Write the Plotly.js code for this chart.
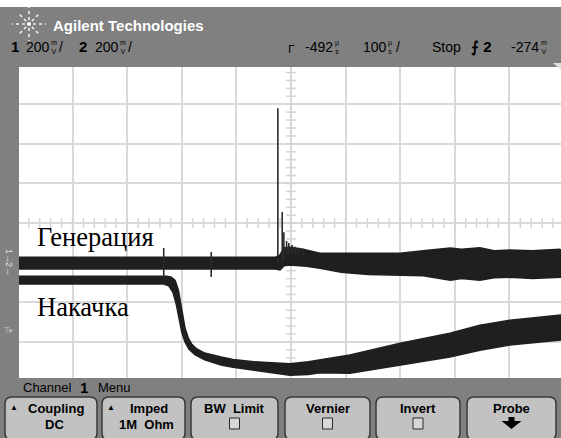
<!DOCTYPE html>
<html><head><meta charset="utf-8">
<script src="https://cdn.plot.ly/plotly-3.0.1.min.js"></script>
<style>html,body{margin:0;padding:0;background:#808080;overflow:hidden}#chart{width:561px;height:438px}</style>
</head><body><div id="chart"></div>
<script>
// ---------- DATA (time in µs, amplitude in screen divisions) ----------
const timeCenter = -492;      // µs, horizontal delay
const timePerDiv = 100;       // µs/div
const voltsPerDiv = 200;      // mV/div
const trigLevel = -274;       // mV

// Channel 1 "Генерация" noise band envelope
const genUpperT = [-990, -520, -512, -505, -494, -470, -439, -400, -350, -292, -250, -200, -180, -146, -120, -91, -50, 0, 2.5];
const genUpperY = [-0.86, -0.86, -0.80, -0.62, -0.61, -0.66, -0.76, -0.76, -0.76, -0.76, -0.70, -0.63, -0.66, -0.62, -0.70, -0.68, -0.70, -0.66, -0.68];
const genLowerT = [-990, -520, -512, -505, -494, -470, -439, -400, -384, -350, -292, -250, -200, -180, -146, -120, -91, -50, 2.5];
const genLowerY = [-1.16, -1.16, -1.18, -1.08, -1.06, -1.08, -1.14, -1.24, -1.26, -1.30, -1.31, -1.33, -1.44, -1.40, -1.44, -1.38, -1.37, -1.40, -1.37];

// Channel 1 spikes (base, peak)
const spikeT    = [-725, -638, -516, -508, -505, -500, -496, -490, -484, -478, -470];
const spikeBase = [-1.40, -1.36, -1.00, -1.00, -0.90, -0.80, -0.80, -0.80, -0.80, -0.80, -0.80];
const spikePeak = [-0.63, -0.73, 2.90, 0.28, -0.23, -0.45, -0.50, -0.55, -0.60, -0.62, -0.65];

// Channel 2 "Накачка" noise band envelope
const pumpUpperT = [-990, -720, -712, -704, -698, -694, -690, -686, -680, -674, -665, -650, -620, -598, -560, -536, -494, -460, -439, -384, -292, -201, -146, -91, 2.5];
const pumpUpperY = [-1.34, -1.34, -1.36, -1.45, -1.70, -2.00, -2.35, -2.65, -2.90, -3.05, -3.17, -3.28, -3.38, -3.44, -3.50, -3.52, -3.55, -3.50, -3.45, -3.33, -3.03, -2.78, -2.58, -2.45, -2.32];
const pumpLowerT = [-990, -725, -716, -708, -702, -697, -692, -686, -679, -668, -650, -620, -598, -560, -536, -494, -460, -439, -384, -292, -201, -146, -91, 2.5];
const pumpLowerY = [-1.54, -1.54, -1.58, -1.75, -2.05, -2.40, -2.75, -3.00, -3.18, -3.32, -3.45, -3.58, -3.64, -3.72, -3.76, -3.84, -3.82, -3.78, -3.79, -3.59, -3.38, -3.21, -3.08, -2.95];

// Text
const traceLabels = ['Генерация', 'Накачка'];
const brand = 'Agilent Technologies';
const menuTitle = 'Channel';
const buttonTop = ['Coupling', 'Imped', 'BW  Limit', 'Vernier', 'Invert', 'Probe'];
const buttonBottom = ['DC', '1M  Ohm', '', '', '', ''];

// ---------- LAYOUT HELPERS ----------
const W = 561, H = 438, ML = 19, MT = 67, MB = 60;
const PW = W - ML, PH = H - MT - MB;
const px = x => (x - ML) / PW;
const py = y => (MT + PH - y) / PH;

const band = (uT, uY, lT, lY) => ({
  x: uT.concat(lT.slice().reverse()),
  y: uY.concat(lY.slice().reverse()),
  type: 'scatter', mode: 'lines', fill: 'toself',
  fillcolor: '#1f1f1f', line: {color: '#1f1f1f', width: 1.5}, hoverinfo: 'skip'
});

const tickX = [];
for (let k = -25; k <= 25; k++) tickX.push(timeCenter + k * timePerDiv / 5);
const tickVX = [], tickVY = [];
for (let k = -20; k <= 20; k++) { tickVX.push(timeCenter); tickVY.push(k * 0.2); }

const sx = [], sy = [];
spikeT.forEach((t, i) => { sx.push(t, t, null); sy.push(spikeBase[i], spikePeak[i], null); });

const traces = [
  {x: tickX, y: tickX.map(() => 0), type: 'scatter', mode: 'markers',
   marker: {symbol: 'line-ns', size: 7, line: {color: '#d4d4d4', width: 1.5}}, hoverinfo: 'skip'},
  {x: tickVX, y: tickVY, type: 'scatter', mode: 'markers',
   marker: {symbol: 'line-ew', size: 7, line: {color: '#d4d4d4', width: 1.5}}, hoverinfo: 'skip'},
  band(pumpUpperT, pumpUpperY, pumpLowerT, pumpLowerY),
  band(genUpperT, genUpperY, genLowerT, genLowerY),
  {x: sx, y: sy, type: 'scatter', mode: 'lines', line: {color: '#2a2a2a', width: 1.6}, hoverinfo: 'skip'}
];

const shapes = [];
const ann = [];
shapes.push({type: 'rect', xref: 'paper', yref: 'paper', x0: px(0), x1: px(W), y0: py(7), y1: py(-2),
  fillcolor: '#ffffff', line: {width: 0}});
// starburst logo
const cx = 29, cy = 24;
for (let a = 0; a < 8; a++) {
  const ang = a * Math.PI / 4;
  const r0 = 4, r1 = a % 2 ? 13 : 17;
  shapes.push({type: 'line', xref: 'paper', yref: 'paper',
    x0: px(cx + r0 * Math.cos(ang)), y0: py(cy + r0 * Math.sin(ang)),
    x1: px(cx + r1 * Math.cos(ang)), y1: py(cy + r1 * Math.sin(ang)),
    line: {color: '#f0f0f0', width: 1.6, dash: 'dot'}});
}
shapes.push({type: 'circle', xref: 'paper', yref: 'paper', x0: px(cx - 2), x1: px(cx + 2), y0: py(cy + 2), y1: py(cy - 2),
  fillcolor: '#ffffff', line: {width: 0}});

const SANS = 'Liberation Sans, Arial, sans-serif';
const txt = (x, y, text, size, color, xa, opts) => Object.assign({
  xref: 'paper', yref: 'paper', x: px(x), y: py(y), text: text, showarrow: false,
  xanchor: xa || 'left', yanchor: 'middle', borderpad: 0,
  font: {family: SANS, size: size, color: color}
}, opts || {});
const textWidth = s => String(s).split('').reduce((w, ch) => w + (ch === '-' ? 4.7 : 7.8), 0);
// value followed by a small stacked unit (e.g. m over V) and optional slash
const unitVal = (x, y, val, top, bot, slash) => {
  ann.push(txt(x, y, String(val), 14, '#000'));
  const w = textWidth(val);
  ann.push(txt(x + w + 2, y, top + '<br>' + bot, 7, '#000', 'left'));
  if (slash) ann.push(txt(x + w + 10, y, '/', 14, '#000'));
};

ann.push(txt(52, 25, '<b>' + brand + '</b>', 15, '#ffffff'));
// status line
ann.push(txt(10, 47, '<b>1</b>', 15, '#000'));
unitVal(25, 47, voltsPerDiv, 'm', 'V', true);
ann.push(txt(78, 47, '<b>2</b>', 15, '#000'));
unitVal(94, 47, voltsPerDiv, 'm', 'V', true);
ann.push(txt(287, 49, 'ᒥ', 11, '#000'));
unitVal(304, 47, timeCenter, 'µ', 's', false);
unitVal(362, 47, timePerDiv, 'µ', 's', true);
ann.push(txt(431, 47, 'Stop', 14, '#000'));
ann.push(txt(470, 47, '<b>⨍ 2</b>', 15, '#000'));
unitVal(510, 47, trigLevel, 'm', 'V', false);
shapes.push({type: 'path', xref: 'paper', yref: 'paper',
  path: `M ${px(553)} ${py(63)} L ${px(561)} ${py(63)} L ${px(561)} ${py(70)} Z`, fillcolor: '#e0e0e0', line: {width: 0}});

// left strip channel markers
ann.push(txt(9, 256, '1→', 9, '#e8e8e8', 'center', {textangle: 90}));
ann.push(txt(9, 269, '2→', 9, '#e8e8e8', 'center', {textangle: 90}));
ann.push(txt(9, 330, 'T▸', 9, '#b0b0b0', 'center'));

// trace labels
const SERIF = {family: 'Liberation Serif, Times New Roman, serif', size: 26.5, color: '#000'};
ann.push(Object.assign(txt(36, 237, traceLabels[0]), {font: SERIF}));
ann.push(Object.assign(txt(36, 307, traceLabels[1]), {font: SERIF}));

// menu title
ann.push(txt(22, 388, menuTitle, 13, '#000'));
ann.push(txt(79, 388, '<b>1</b>', 15, '#000'));
ann.push(txt(97, 388, 'Menu', 13, '#000'));

// buttons
const bx = [[5, 97], [102, 185], [191, 278], [285, 370], [376, 460], [467, 556]];
const rr = (x0, y0, x1, y1, r) => `M ${px(x0 + r)} ${py(y0)} L ${px(x1 - r)} ${py(y0)} Q ${px(x1)} ${py(y0)} ${px(x1)} ${py(y0 + r)} L ${px(x1)} ${py(y1 - r)} Q ${px(x1)} ${py(y1)} ${px(x1 - r)} ${py(y1)} L ${px(x0 + r)} ${py(y1)} Q ${px(x0)} ${py(y1)} ${px(x0)} ${py(y1 - r)} L ${px(x0)} ${py(y0 + r)} Q ${px(x0)} ${py(y0)} ${px(x0 + r)} ${py(y0)} Z`;
bx.forEach((b, i) => {
  shapes.push({type: 'path', xref: 'paper', yref: 'paper', path: rr(b[0], 397, b[1], 440, 7),
    fillcolor: '#c2c2c2', line: {color: '#3a3a3a', width: 1.5}});
  const c = (b[0] + b[1]) / 2;
  if (i < 2) {
    ann.push(txt(b[0] + 4, 407, '▲', 8, '#000'));
    ann.push(txt(c + 5, 408, '<b>' + buttonTop[i] + '</b>', 13, '#000', 'center'));
    ann.push(txt(c + 3, 424, '<b>' + buttonBottom[i] + '</b>', 13, '#000', 'center'));
  } else {
    ann.push(txt(c, 408, '<b>' + buttonTop[i] + '</b>', 13, '#000', 'center'));
    if (i < 5) {
      shapes.push({type: 'rect', xref: 'paper', yref: 'paper', x0: px(c - 5), x1: px(c + 5), y0: py(429), y1: py(418),
        fillcolor: '#d8d8d8', line: {color: '#2a2a2a', width: 1}});
    } else {
      shapes.push({type: 'path', xref: 'paper', yref: 'paper',
        path: `M ${px(c - 3)} ${py(417)} L ${px(c + 3)} ${py(417)} L ${px(c + 3)} ${py(421)} L ${px(c + 10)} ${py(421)} L ${px(c)} ${py(429)} L ${px(c - 10)} ${py(421)} L ${px(c - 3)} ${py(421)} Z`,
        fillcolor: '#000', line: {width: 0}});
    }
  }
});

const layout = {
  width: W, height: H,
  margin: {l: ML, r: 0, t: MT, b: MB, pad: 0},
  paper_bgcolor: '#808080', plot_bgcolor: '#ffffff',
  showlegend: false,
  xaxis: {range: [-990, 2.5], tick0: timeCenter, dtick: timePerDiv, showticklabels: false, ticks: '',
    zeroline: false, showline: false, gridcolor: '#d9d9d9', gridwidth: 2, fixedrange: true},
  yaxis: {range: [-3.91, 3.94], tick0: 0, dtick: 1, showticklabels: false, ticks: '',
    zeroline: false, showline: false, gridcolor: '#d9d9d9', gridwidth: 2, fixedrange: true},
  shapes: shapes, annotations: ann
};
Plotly.newPlot('chart', traces, layout, {staticPlot: true, displayModeBar: false});
</script></body></html>
